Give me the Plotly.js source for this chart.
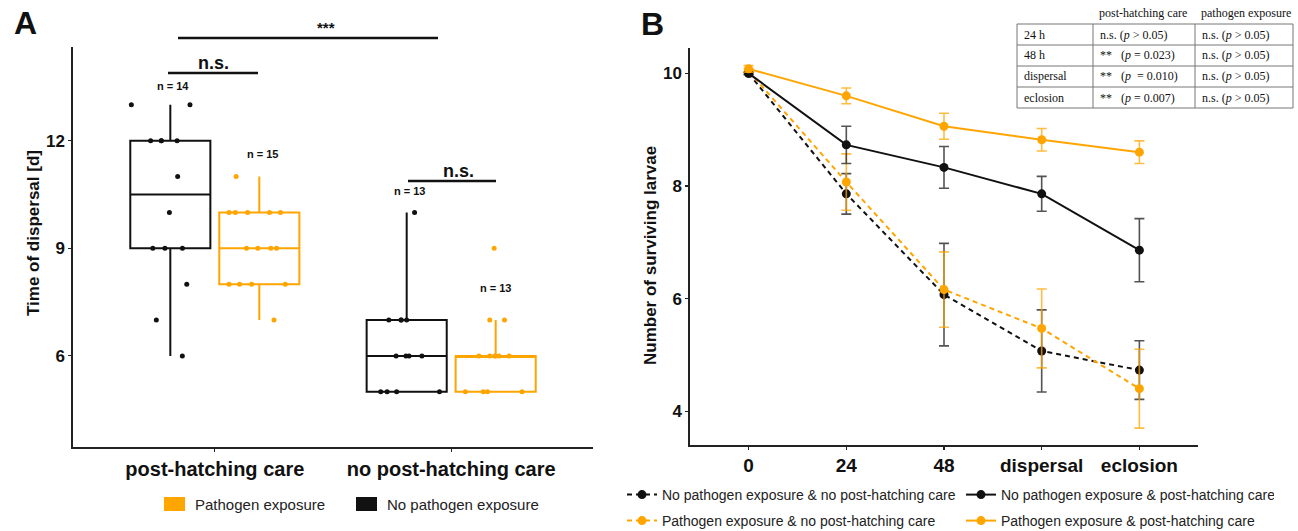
<!DOCTYPE html>
<html>
<head>
<meta charset="utf-8">
<script src="https://cdn.plot.ly/plotly-3.0.1.min.js"></script>
<style>
html,body{margin:0;padding:0;background:#fff;overflow:hidden;}
#chart{width:1298px;height:531px;overflow:hidden;}
</style>
</head>
<body>
<div id="chart"></div>
<script>
// ---------------- Panel A data ----------------
const boxCategories = ['post-hatching care', 'no post-hatching care'];
const noPathCareDays = [13, 13, 12, 12, 12, 12, 11, 10, 9, 9, 9, 8, 7, 6];
const noPathNoCareDays = [10, 7, 7, 7, 7, 6, 6, 6, 6, 5, 5, 5, 5];
const pathCareDays = [11, 10, 10, 10, 10, 10, 9, 9, 9, 9, 8, 8, 8, 8, 7];
const pathNoCareDays = [9, 7, 7, 6, 6, 6, 6, 6, 6, 5, 5, 5, 5];
const boxSeriesNames = ['No pathogen exposure', 'Pathogen exposure'];
const yTicksA = [6, 9, 12];

// ---------------- Panel B data ----------------
const timepoints = ['0', '24', '48', 'dispersal', 'eclosion'];
const noPathNoCareMean = [10.0, 7.86, 6.07, 5.07, 4.73];
const noPathNoCareErr  = [0.02, 0.36, 0.91, 0.73, 0.52];
const pathNoCareMean   = [10.04, 8.07, 6.16, 5.47, 4.40];
const pathNoCareErr    = [0.04, 0.50, 0.67, 0.70, 0.70];
const noPathCareMean   = [10.0, 8.73, 8.33, 7.86, 6.86];
const noPathCareErr    = [0.02, 0.33, 0.37, 0.31, 0.56];
const pathCareMean     = [10.08, 9.60, 9.06, 8.82, 8.60];
const pathCareErr      = [0.06, 0.14, 0.23, 0.20, 0.20];
const lineSeriesNames = [
  'No pathogen exposure & no post-hatching care',
  'Pathogen exposure & no post-hatching care',
  'No pathogen exposure & post-hatching care',
  'Pathogen exposure & post-hatching care'
];
const yTicksB = [4, 6, 8, 10];

// ---------------- Table data ----------------
const tableHeader = ['', 'post-hatching care', 'pathogen exposure'];
const tableRows = ['24 h', '48 h', 'dispersal', 'eclosion'];
const careSig = ['n.s. (<i>p</i> > 0.05)', '**\u00a0\u00a0\u00a0(<i>p</i> = 0.023)', '**\u00a0\u00a0\u00a0(<i>p</i>\u00a0 = 0.010)', '**\u00a0\u00a0\u00a0(<i>p</i> = 0.007)'];
const pathSig = ['n.s. (<i>p</i> > 0.05)', 'n.s. (<i>p</i> > 0.05)', 'n.s. (<i>p</i> > 0.05)', 'n.s. (<i>p</i> > 0.05)'];

// ---------------- annotations text ----------------
const nLabels = ['n = 14', 'n = 15', 'n = 13', 'n = 13'];
const sigLabels = ['***', 'n.s.', 'n.s.'];

// ---------------- helpers ----------------
const W = 1298, H = 531;
const px = x => x / W;
const py = y => (H - y) / H;

const ORANGE = '#FFA500';
const BLACK = '#111111';
const FONT = 'Liberation Sans, Arial, sans-serif';
const SERIF = 'Liberation Serif, Times New Roman, serif';

function repeatCat(arr, cat) { return arr.map(() => cat); }

const traces = [];

// Panel A boxes
traces.push({
  type: 'box', name: boxSeriesNames[0], showlegend: false,
  x: repeatCat(noPathCareDays, boxCategories[0]).concat(repeatCat(noPathNoCareDays, boxCategories[1])),
  y: noPathCareDays.concat(noPathNoCareDays),
  xaxis: 'x', yaxis: 'y',
  boxpoints: 'all', jitter: 1.0, pointpos: 0, quartilemethod: 'inclusive',
  line: {color: BLACK, width: 2}, fillcolor: 'rgba(0,0,0,0)',
  marker: {color: BLACK, size: 5},
  whiskerwidth: 0, hoverinfo: 'y'
});
traces.push({
  type: 'box', name: boxSeriesNames[1], showlegend: false,
  x: repeatCat(pathCareDays, boxCategories[0]).concat(repeatCat(pathNoCareDays, boxCategories[1])),
  y: pathCareDays.concat(pathNoCareDays),
  xaxis: 'x', yaxis: 'y',
  boxpoints: 'all', jitter: 1.0, pointpos: 0, quartilemethod: 'inclusive',
  line: {color: ORANGE, width: 2}, fillcolor: 'rgba(0,0,0,0)',
  marker: {color: ORANGE, size: 5},
  whiskerwidth: 0, hoverinfo: 'y'
});

// Panel B lines
function lineTrace(name, mean, err, color, errColor, dash, legend, lw) {
  return {
    type: 'scatter', mode: 'lines+markers', name: name,
    x: timepoints, y: mean, xaxis: 'x2', yaxis: 'y2',
    line: {color: color, width: 2, dash: dash},
    marker: {color: color, size: 9, symbol: 'circle'},
    error_y: {type: 'data', array: err, visible: true, color: errColor, thickness: 1.6, width: 5},
    legend: legend, legendwidth: lw
  };
}
traces.push(lineTrace(lineSeriesNames[0], noPathNoCareMean, noPathNoCareErr, BLACK, 'rgba(40,40,40,0.8)', '5px,4px', 'legend', 294));
traces.push(lineTrace(lineSeriesNames[1], pathNoCareMean, pathNoCareErr, ORANGE, 'rgba(255,165,0,0.75)', '5px,4px', 'legend2', 294));
traces.push(lineTrace(lineSeriesNames[2], noPathCareMean, noPathCareErr, BLACK, 'rgba(40,40,40,0.8)', 'solid', 'legend', 268));
traces.push(lineTrace(lineSeriesNames[3], pathCareMean, pathCareErr, ORANGE, 'rgba(255,165,0,0.75)', 'solid', 'legend2', 268));

const axisLine = {showline: true, linecolor: '#222', linewidth: 1.6, ticks: 'outside', ticklen: 3, tickcolor: '#222', tickwidth: 1.2, showgrid: false, zeroline: false};

const shapes = [
  {type: 'line', xref: 'paper', yref: 'paper', x0: px(178), x1: px(438), y0: py(38), y1: py(38), line: {color: BLACK, width: 2.5}},
  {type: 'line', xref: 'paper', yref: 'paper', x0: px(168), x1: px(258), y0: py(73), y1: py(73), line: {color: BLACK, width: 2.5}},
  {type: 'line', xref: 'paper', yref: 'paper', x0: px(408), x1: px(496), y0: py(181), y1: py(181), line: {color: BLACK, width: 2.5}},
  {type: 'rect', xref: 'paper', yref: 'paper', x0: px(164), x1: px(185), y0: py(511), y1: py(497), fillcolor: ORANGE, line: {width: 0}},
  {type: 'rect', xref: 'paper', yref: 'paper', x0: px(356), x1: px(377), y0: py(511), y1: py(497), fillcolor: BLACK, line: {width: 0}}
];

function ann(text, x, y, size, bold, extra) {
  return Object.assign({
    text: text, xref: 'paper', yref: 'paper', x: px(x), y: py(y),
    xanchor: 'center', yanchor: 'middle', showarrow: false,
    font: {family: FONT, size: size, color: '#111', weight: bold ? 'bold' : 'normal'}
  }, extra || {});
}

const annotations = [
  ann('A', 25, 23, 32, true),
  ann('B', 652, 24, 32, true),
  ann(sigLabels[0], 326, 28, 15, true),
  ann(sigLabels[1], 213, 63, 18, true),
  ann(sigLabels[2], 458, 171, 18, true),
  ann(nLabels[0], 173, 86, 11, true),
  ann(nLabels[1], 263, 154, 11, true),
  ann(nLabels[2], 410, 191, 11, true),
  ann(nLabels[3], 496, 288, 11, true),
  ann('Time of dispersal [d]', 33, 233, 17, true, {textangle: -90}),
  ann('Number of surviving larvae', 650, 256, 17, true, {textangle: -90}),
  ann(boxSeriesNames[1], 193, 504, 15, false, {xanchor: 'left', font: {family: FONT, size: 15, color: '#222'}}),
  ann(boxSeriesNames[0], 385, 504, 15, false, {xanchor: 'left', font: {family: FONT, size: 15, color: '#222'}})
];

// ---------- table built from the arrays (lines + text) ----------
const tblLeft = 1017, tblRight = 1293, tblTop = 24, rowH = 21;
const colEdges = [tblLeft, 1093, 1195, tblRight];
const tblBottom = tblTop + rowH * tableRows.length;
const tblLine = {color: '#777', width: 1};
for (let k = 0; k <= tableRows.length; k++) {
  const yy = tblTop + rowH * k;
  shapes.push({type: 'line', xref: 'paper', yref: 'paper', x0: px(tblLeft), x1: px(tblRight), y0: py(yy), y1: py(yy), line: tblLine});
}
colEdges.forEach(xx => {
  shapes.push({type: 'line', xref: 'paper', yref: 'paper', x0: px(xx), x1: px(xx), y0: py(tblTop), y1: py(tblBottom), line: tblLine});
});
const serifFont = {family: SERIF, size: 12, color: '#111'};
tableHeader.forEach((h, j) => {
  if (!h) return;
  annotations.push({text: h, xref: 'paper', yref: 'paper', x: px(colEdges[j] + 4), y: py(tblTop - 11),
    xanchor: 'left', yanchor: 'middle', showarrow: false, font: serifFont});
});
const tableCols = [tableRows, careSig, pathSig];
tableCols.forEach((col, j) => {
  col.forEach((t, i) => {
    annotations.push({text: t, xref: 'paper', yref: 'paper', x: px(colEdges[j] + 5), y: py(tblTop + rowH * i + rowH / 2),
      xanchor: 'left', yanchor: 'middle', showarrow: false, font: serifFont});
  });
});

const legendBase = {
  orientation: 'h', xanchor: 'left', yanchor: 'middle',
  x: px(622), itemwidth: 30,
  bgcolor: 'rgba(0,0,0,0)', borderwidth: 0,
  font: {family: FONT, size: 14, color: '#222'}
};

const layout = {
  width: W, height: H,
  margin: {l: 0, r: 0, t: 0, b: 0, autoexpand: false},
  paper_bgcolor: '#fff', plot_bgcolor: 'rgba(0,0,0,0)',
  font: {family: FONT, color: '#111'},
  boxmode: 'group', boxgap: 0.247, boxgroupgap: 0.1,
  showlegend: true,
  legend: Object.assign({}, legendBase, {y: py(495)}),
  legend2: Object.assign({}, legendBase, {y: py(521)}),
  xaxis: Object.assign({}, axisLine, {
    domain: [px(73), px(593)], anchor: 'y', type: 'category',
    categoryorder: 'array', categoryarray: boxCategories,
    range: [-0.6, 1.6],
    tickfont: {family: FONT, size: 20, color: '#111', weight: 'bold'}
  }),
  yaxis: Object.assign({}, axisLine, {
    domain: [py(447), py(47)], anchor: 'x',
    range: [3.46, 14.61], tickvals: yTicksA,
    tickfont: {family: FONT, size: 17, color: '#111', weight: 'bold'}
  }),
  xaxis2: Object.assign({}, axisLine, {
    domain: [px(690), px(1198)], anchor: 'y2', type: 'category',
    categoryorder: 'array', categoryarray: timepoints,
    range: [-0.6, 4.6],
    tickfont: {family: FONT, size: 19, color: '#111', weight: 'bold'}
  }),
  yaxis2: Object.assign({}, axisLine, {
    domain: [py(445), py(48)], anchor: 'x2',
    range: [3.40, 10.45], tickvals: yTicksB,
    tickfont: {family: FONT, size: 17, color: '#111', weight: 'bold'}
  }),
  shapes: shapes,
  annotations: annotations
};

Plotly.newPlot('chart', traces, layout, {displayModeBar: false, staticPlot: true});
</script>
</body>
</html>
